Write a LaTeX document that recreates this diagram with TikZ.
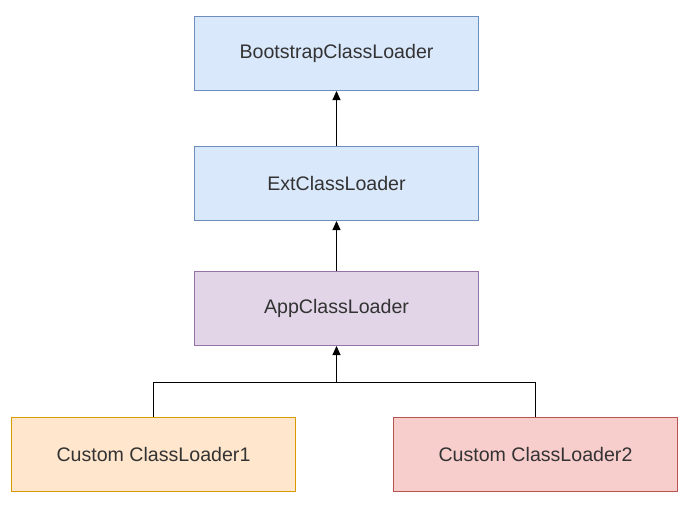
\documentclass[tikz,border=0pt]{standalone}
\usepackage{fontspec}
\setmainfont{Liberation Sans}
\usepackage{tikz}
\usetikzlibrary{arrows.meta}
\usetikzlibrary{positioning}
\usepackage{xcolor}
\definecolor{blueFill}{HTML}{DAE8FC}
\definecolor{blueLine}{HTML}{6C8EBF}
\definecolor{purpleFill}{HTML}{E1D5E7}
\definecolor{purpleLine}{HTML}{9673A6}
\definecolor{orangeFill}{HTML}{FFE6CC}
\definecolor{orangeLine}{HTML}{D79B00}
\definecolor{redFill}{HTML}{F8CECC}
\definecolor{redLine}{HTML}{B85450}
\definecolor{textGray}{HTML}{333333}

\begin{document}
\begin{tikzpicture}[x=0.5pt, y=-0.5pt]
  \tikzset{
    loader/.style={
      draw,
      rectangle,
      minimum width=142pt,
      minimum height=37pt,
      inner sep=0pt,
      line width=0.5pt,
      text=textGray,
      font=\fontsize{9.8}{12}\selectfont
    },
    bluebox/.style={loader, fill=blueFill, draw=blueLine},
    purplebox/.style={loader, fill=purpleFill, draw=purpleLine},
    orangebox/.style={loader, fill=orangeFill, draw=orangeLine},
    redbox/.style={loader, fill=redFill, draw=redLine},
    edge/.style={
      draw=black,
      line width=0.5pt
    },
    parent/.style={
      edge,
      -{Triangle[length=4.5pt, width=4pt]}
    }
  }
  \useasboundingbox (0,0) rectangle (691,504);

  % Nodes
  \node[bluebox] (boot) at (336.5,53.5) {BootstrapClassLoader};
  \node[bluebox] (ext) at (336.5,183.5) {ExtClassLoader};
  \node[purplebox] (app) at (336.5,308.5) {AppClassLoader};
  \node[orangebox] (custom1) at (153.5,454.5) {Custom ClassLoader1};
  \node[redbox] (custom2) at (535.5,454.5) {Custom ClassLoader2};
  \coordinate (join) at (336.5,382);

  % Edges
  \draw[parent] (ext) -- (boot);
  \draw[parent] (app) -- (ext);
  \draw[edge] (custom1.north) |- (join);
  \draw[edge] (custom2.north) |- (join);
  \draw[parent] (join) -- (app);
\end{tikzpicture}
\end{document}
